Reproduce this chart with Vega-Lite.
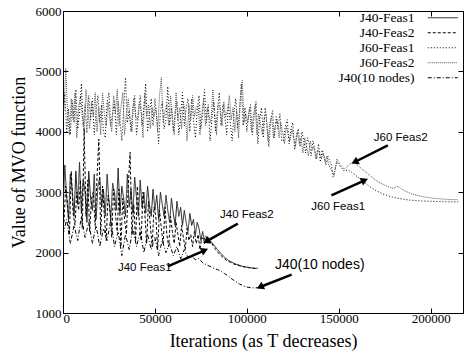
{
  "$schema": "https://vega.github.io/schema/vega-lite/v6.json",
  "width": 400,
  "height": 302,
  "autosize": {"type": "none"},
  "padding": {"left": 63, "top": 11, "right": 1, "bottom": 43},
  "background": "white",
  "config": {
    "view": {"stroke": "black", "strokeWidth": 1},
    "font": "'Liberation Serif', 'Times New Roman', Times, serif",
    "axis": {
      "domainColor": "black", "tickColor": "black", "labelColor": "black", "titleColor": "black",
      "labelFont": "'Liberation Serif', 'Times New Roman', Times, serif", "titleFont": "'Liberation Serif', 'Times New Roman', Times, serif",
      "labelFontSize": 13, "titleFontSize": 18, "titleFontWeight": "normal",
      "grid": false, "tickSize": -5, "domainWidth": 1, "tickWidth": 1
    }
  },
  "datasets": {
    "lines": [
      {"series": "J60-Feas1",
       "x": [0,1000,2000,3000,4000,5000,6000,7000,8000,9000,10000,11000,12000,13000,14000,15000,16000,17000,18000,19000,20000,21000,22000,23000,24000,25000,26000,27000,28000,29000,30000,31000,32000,33000,34000,35000,36000,37000,38000,39000,40000,41000,42000,43000,44000,45000,46000,47000,48000,49000,50000,51000,52000,53000,54000,55000,56000,57000,58000,59000,60000,61000,62000,63000,64000,65000,66000,67000,68000,69000,70000,71000,72000,73000,74000,75000,76000,77000,78000,79000,80000,81000,82000,83000,84000,85000,86000,87000,88000,89000,90000,91000,92000,93000,94000,95000,96000,97000,98000,99000,100000,101000,102000,103000,104000,105000,106000,107000,108000,109000,110000,111000,112000,113000,114000,115000,116000,117000,118000,119000,120000,121000,122000,123000,124000,125000,126000,127000,128000,129000,130000,131000,132000,133000,134000,135000,136000,137000,138000,139000,140000,141000,142000,143000,144000,146000,147000,149000,151000,153000,155000,157000,160000,163000,166000,170000,174000,178000,182000,186000,190000,195000,200000,205000,210000,215000],
       "y": [4200,4650,4000,4380,3950,4520,4150,4700,4050,4300,4800,4100,4450,3980,4600,4200,4550,3950,4350,4600,4150,4450,4000,3900,4500,4650,4100,4300,4500,3950,4500,4200,3850,4400,4900,4150,4350,4000,4400,4600,3950,4250,4600,4100,4400,4800,4000,4300,4550,4100,4550,4250,3800,4350,4500,4050,4200,4750,4100,4400,4000,4300,4500,3950,4250,4650,4100,4400,4550,4000,4550,4200,3900,4350,4600,4050,4300,4700,4150,4450,3850,4200,4500,4000,4350,4650,4100,4450,4250,3950,4450,4150,3850,4300,4550,4050,4350,4800,4100,4400,4000,4300,4450,3950,4250,4500,3800,4200,4400,3900,4400,4100,3750,4200,4350,3900,4250,4050,4300,3850,3850,4100,4200,3800,4050,4150,3700,3950,4050,3750,4000,3850,3650,3900,3800,3600,3850,3700,3550,3800,3500,3700,3600,3450,3600,3450,3250,3500,3420,3350,3370,3330,3260,3190,3110,3030,2970,2930,2900,2880,2865,2855,2850,2845,2840,2840]},
      {"series": "J60-Feas2",
       "x": [500,1500,2500,3500,4500,5500,6500,7500,8500,9500,10500,11500,12500,13500,14500,15500,16500,17500,18500,19500,20500,21500,22500,23500,24500,25500,26500,27500,28500,29500,30500,31500,32500,33500,34500,35500,36500,37500,38500,39500,40500,41500,42500,43500,44500,45500,46500,47500,48500,49500,50500,51500,52500,53500,54500,55500,56500,57500,58500,59500,60500,61500,62500,63500,64500,65500,66500,67500,68500,69500,70500,71500,72500,73500,74500,75500,76500,77500,78500,79500,80500,81500,82500,83500,84500,85500,86500,87500,88500,89500,90500,91500,92500,93500,94500,95500,96500,97500,98500,99500,100500,101500,102500,103500,104500,105500,106500,107500,108500,109500,110500,111500,112500,113500,114500,115500,116500,117500,118500,119500,120500,121500,122500,123500,124500,125500,126500,127500,128500,129500,130500,131500,132500,133500,134500,135500,136500,137500,138500,139500,140500,141500,142500,143500,144500,147500,149000,151000,153000,155000,157000,159000,162000,166000,170000,174000,178000,180000,181500,183000,186000,190000,195000,200000,205000,210000,215000],
       "y": [4350,5050,4300,3950,4550,4200,4650,3900,4400,4600,4250,4000,4700,4350,4050,4500,4250,4650,4000,4400,3950,4650,4300,4100,4500,4200,4000,4600,4300,4700,4100,4400,4650,3950,4300,4550,4200,4000,4550,4250,4200,4500,4350,3900,4650,4250,4450,4050,4400,4250,4400,4000,4600,4900,4150,4350,4450,4100,4600,4250,3950,4650,4200,4400,4050,4500,4300,3850,4450,4200,4600,4250,4400,4450,3950,4300,4550,4100,4400,4250,4150,4700,4300,3950,4450,4400,4100,4500,4250,4350,4600,4200,4400,4000,4350,3900,4550,4850,4150,4300,4150,4400,4000,4250,4450,3950,4300,4100,3950,4250,4300,3850,4150,4250,3900,4100,4200,3900,4150,4000,3800,4100,3950,3850,4050,3900,3750,4000,3800,3900,3650,3900,3750,3600,3850,3700,3750,3550,3700,3650,3550,3650,3500,3600,3450,3280,3550,3450,3380,3440,3490,3480,3400,3300,3200,3130,3080,3060,3100,3080,3020,2970,2930,2905,2890,2880,2875]},
      {"series": "J40-Feas1",
       "x": [0,1000,2000,3000,4000,5000,6000,7000,8000,9000,10000,11000,12000,13000,14000,15000,16000,17000,18000,19000,20000,21000,22000,23000,24000,25000,26000,27000,28000,29000,30000,31000,32000,33000,34000,35000,36000,37000,38000,39000,40000,41000,42000,43000,44000,45000,46000,47000,48000,49000,50000,51000,52000,53000,54000,55000,56000,57000,58000,59000,60000,61000,62000,63000,64000,65000,66000,67000,68000,69000,70000,71000,72000,73000,74000,75000,76000,77000,78000,80000,82000,84000,86000,88000,90000,92000,94000,96000,98000,100000,102000,104000,106000],
       "y": [2700,3450,2900,2550,3300,3050,2600,3350,2800,3500,2650,3200,3000,2500,3350,2900,2700,3300,2550,3100,3250,2750,3050,2600,3300,2850,2550,3150,3000,2700,3400,2650,3100,2900,2600,3300,2750,3050,2650,3250,2900,2600,3200,2750,3000,2650,3100,2800,2600,3050,2700,2950,2550,3000,2800,2600,2950,2700,2500,2900,2650,2450,2850,2600,2750,2450,2700,2500,2350,2650,2450,2550,2300,2500,2400,2200,2350,2150,2250,2200,2130,2050,1980,1920,1870,1840,1810,1790,1770,1760,1750,1740,1740]},
      {"series": "J40-Feas2",
       "x": [500,1500,2500,3500,4500,5500,6500,7500,8500,9500,10500,11500,12500,13500,14500,15500,16500,17500,18500,19500,20500,21500,22500,23500,24500,25500,26500,27500,28500,29500,30500,31500,32500,33500,34500,35500,36500,37500,38500,39500,40500,41500,42500,43500,44500,45500,46500,47500,48500,49500,50500,51500,52500,53500,54500,55500,56500,57500,58500,59500,60500,61500,62500,63500,64500,65500,66500,67500,68500,69500,70500,71500,72500,73500,74500,75500,76500,77500,79000,81000,83000,85000,87000,89000,91000,93000,95000,97000,99000,101000,103000,105000],
       "y": [2500,3100,2800,2300,3350,2650,2450,3000,2700,3200,2400,4050,2600,3200,2350,2900,3000,2450,3250,3880,2300,3100,2600,2200,2950,2750,2250,3050,2650,2350,3050,2100,2900,2550,2300,3100,3660,2300,2800,2200,3100,2500,2200,3000,2650,2150,2850,2450,2100,2750,2600,2050,2700,2400,2150,2750,2300,2100,2600,2350,2150,2500,2300,2100,2450,2250,2050,2400,2200,2300,2100,2350,2150,2300,2050,2250,2200,2280,2220,2150,2050,1980,1920,1870,1840,1810,1790,1775,1760,1750,1745,1735]},
      {"series": "J40(10 nodes)",
       "x": [0,2000,4000,6000,8000,10000,12000,14000,16000,18000,20000,22000,24000,26000,28000,30000,32000,34000,36000,38000,40000,42000,44000,46000,48000,50000,52000,54000,56000,58000,60000,62000,64000,66000,68000,70000,72000,74000,76000,78000,80000,82000,84000,86000,88000,90000,92000,94000,96000,98000,100000,102000,104000,106000,108000],
       "y": [2300,2550,2150,2450,2200,2600,2250,2500,2150,2450,2100,2400,2200,2550,2100,2350,1950,2300,2050,2400,2100,2350,2000,2300,2050,2250,1950,2200,2000,2150,1950,2100,1900,2050,1920,1950,1880,1900,1830,1800,1770,1740,1720,1690,1650,1610,1560,1520,1480,1450,1430,1420,1415,1420,1425]}
    ],
    "notes": [
      {"label": "J60 Feas2", "lx": 183700, "ly": 3900, "ax": 176700, "ay": 3776, "hx": 158700, "hy": 3500},
      {"label": "J60 Feas1", "lx": 149700, "ly": 2750, "ax": 146000, "ay": 2949, "hx": 164100, "hy": 3197},
      {"label": "J40 Feas2", "lx": 100000, "ly": 2617, "ax": 95100, "ay": 2480, "hx": 78000, "hy": 2187},
      {"label": "J40 Feas1", "lx": 44500, "ly": 1745, "ax": 57000, "ay": 1773, "hx": 77100, "hy": 2038},
      {"label": "J40(10 nodes)", "lx": 139700, "ly": 1790, "ax": 124400, "ay": 1636, "hx": 107200, "hy": 1430}
    ]
  },
  "layer": [
    {
      "data": {"name": "lines"},
      "transform": [{"flatten": ["x", "y"]}],
      "mark": {"type": "line", "strokeWidth": 1, "clip": true},
      "encoding": {
        "x": {"field": "x", "type": "quantitative",
              "scale": {"domain": [0, 217600], "nice": false, "zero": false},
              "axis": {"orient": "bottom", "values": [0, 50000, 100000, 150000, 200000], "format": "d", "title": "Iterations (as T decreases)", "labelPadding": 4, "titlePadding": 7,
                       "labelFont": "'Liberation Serif', 'Times New Roman', Times, serif", "titleFont": "'Liberation Serif', 'Times New Roman', Times, serif", "labelFontSize": 13, "titleFontSize": 18}},
        "y": {"field": "y", "type": "quantitative",
              "scale": {"domain": [1000, 6000], "nice": false, "zero": false},
              "axis": {"orient": "left", "values": [1000, 2000, 3000, 4000, 5000, 6000], "format": "d", "title": "Value of MVO function", "labelPadding": 7, "titlePadding": 7,
                       "labelFont": "'Liberation Serif', 'Times New Roman', Times, serif", "titleFont": "'Liberation Serif', 'Times New Roman', Times, serif", "labelFontSize": 13, "titleFontSize": 18}},
        "color": {"field": "series", "type": "nominal",
                  "scale": {"domain": ["J40-Feas1", "J40-Feas2", "J60-Feas1", "J60-Feas2", "J40(10 nodes)"],
                            "range": ["#222222", "#000000", "#000000", "#555555", "#000000"]},
                  "legend": {"orient": "none", "legendX": 373, "legendY": 0, "title": null, "symbolType": "M-3,0H3", "symbolSize": 100, "symbolStrokeWidth": 1, "labelAlign": "right", "labelOffset": -35, "labelFont": "'Liberation Serif', 'Times New Roman', Times, serif", "labelFontSize": 13.5, "labelColor": "black", "rowPadding": 0, "padding": 0, "labelLimit": 200}},
        "strokeDash": {"field": "series", "type": "nominal",
                  "scale": {"domain": ["J40-Feas1", "J40-Feas2", "J60-Feas1", "J60-Feas2", "J40(10 nodes)"],
                            "range": [[1, 0], [3, 2], [1, 2], [1, 1], [4, 2, 1, 2]]},
                  "legend": {"orient": "none", "legendX": 373, "legendY": 0, "title": null, "symbolType": "M-3,0H3", "symbolSize": 100, "symbolStrokeWidth": 1, "labelAlign": "right", "labelOffset": -35, "labelFont": "'Liberation Serif', 'Times New Roman', Times, serif", "labelFontSize": 13.5, "labelColor": "black", "rowPadding": 0, "padding": 0, "labelLimit": 200}}
      }
    },
    {
      "data": {"name": "notes"},
      "mark": {"type": "point", "opacity": 0},
      "encoding": {
        "x": {"field": "hx", "type": "quantitative", "axis": {"orient": "top", "values": [0, 50000, 100000, 150000, 200000], "labels": false, "title": null}},
        "y": {"field": "hy", "type": "quantitative", "axis": {"orient": "right", "values": [1000, 2000, 3000, 4000, 5000, 6000], "labels": false, "title": null}}
      }
    },
    {
      "data": {"name": "notes"},
      "mark": {"type": "rule", "strokeWidth": 2.5, "color": "black"},
      "encoding": {
        "x": {"field": "ax", "type": "quantitative", "axis": null},
        "y": {"field": "ay", "type": "quantitative", "axis": null},
        "x2": {"field": "hx"},
        "y2": {"field": "hy"}
      }
    },
    {
      "data": {"name": "notes"},
      "transform": [{"filter": "datum.hx < datum.ax"}],
      "mark": {"type": "point", "shape": "triangle-up", "filled": true, "color": "black", "opacity": 1, "size": 70, "angle": 244},
      "encoding": {
        "x": {"field": "hx", "type": "quantitative", "axis": null},
        "y": {"field": "hy", "type": "quantitative", "axis": null}
      }
    },
    {
      "data": {"name": "notes"},
      "transform": [{"filter": "datum.hx > datum.ax"}],
      "mark": {"type": "point", "shape": "triangle-up", "filled": true, "color": "black", "opacity": 1, "size": 70, "angle": 66},
      "encoding": {
        "x": {"field": "hx", "type": "quantitative", "axis": null},
        "y": {"field": "hy", "type": "quantitative", "axis": null}
      }
    },
    {
      "data": {"name": "notes"},
      "transform": [{"filter": "datum.label != 'J40(10 nodes)'"}],
      "mark": {"type": "text", "font": "'Liberation Sans', Arial, Helvetica, sans-serif", "fontSize": 11.5, "color": "black", "align": "center", "baseline": "middle"},
      "encoding": {
        "x": {"field": "lx", "type": "quantitative", "axis": null},
        "y": {"field": "ly", "type": "quantitative", "axis": null},
        "text": {"field": "label"}
      }
    },
    {
      "data": {"name": "notes"},
      "transform": [{"filter": "datum.label == 'J40(10 nodes)'"}],
      "mark": {"type": "text", "font": "'Liberation Sans', Arial, Helvetica, sans-serif", "fontSize": 14, "color": "black", "align": "center", "baseline": "middle"},
      "encoding": {
        "x": {"field": "lx", "type": "quantitative", "axis": null},
        "y": {"field": "ly", "type": "quantitative", "axis": null},
        "text": {"field": "label"}
      }
    }
  ]
}
